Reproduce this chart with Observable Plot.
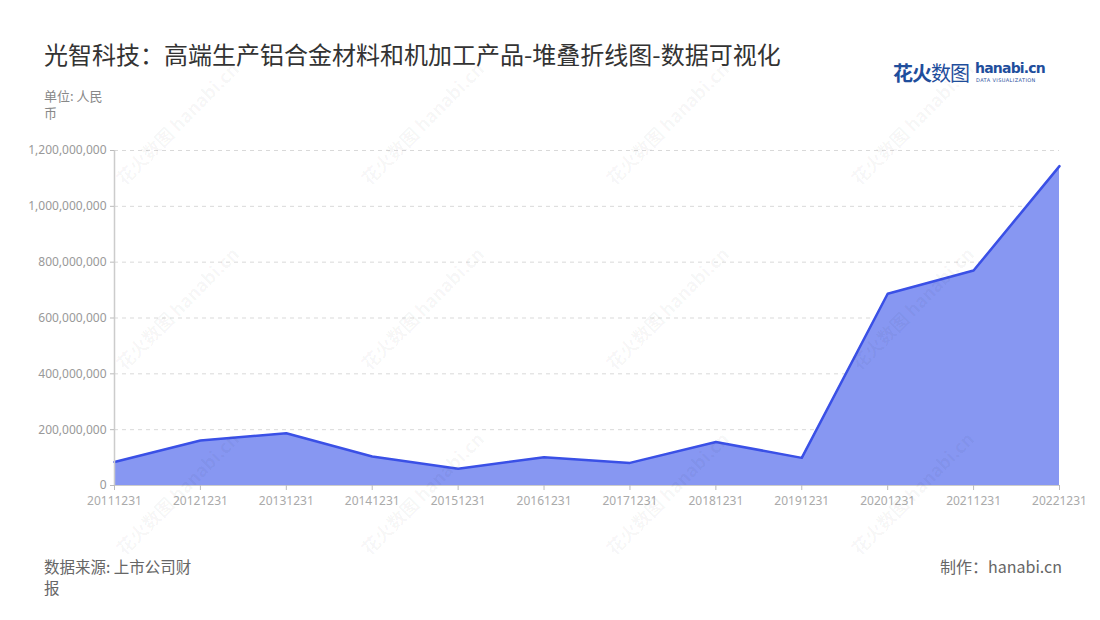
<!DOCTYPE html>
<html><head><meta charset="utf-8">
<script src="https://cdn.jsdelivr.net/npm/d3@7"></script>
<script src="https://cdn.jsdelivr.net/npm/@observablehq/plot@0.6"></script>
<style>
html,body{margin:0;padding:0;background:#fff;}
#wrap{position:relative;width:1100px;height:620px;overflow:hidden;font-family:"Noto Sans CJK SC","Noto Sans",sans-serif;}
.abs{position:absolute;white-space:nowrap;}
.wm{position:absolute;transform-origin:0 100%;transform:rotate(-45deg);color:rgba(0,0,0,0.04);font-size:18px;font-weight:bold;white-space:nowrap;pointer-events:none;}
#chart{position:absolute;left:0;top:130px;}
</style></head>
<body><div id="wrap">
<div class="abs" style="left:44px;top:36px;font-size:24px;color:#333;">光智科技：高端生产铝合金材料和机加工产品-堆叠折线图-数据可视化</div>
<div class="abs" style="left:893px;top:58px;font-size:20px;font-weight:bold;color:#1f4e9c;letter-spacing:-1px;">花火<span style="font-weight:normal">数图</span></div>
<div class="abs" style="left:975px;top:60px;font-size:14px;font-weight:bold;color:#1f4e9c;font-family:'DejaVu Sans';letter-spacing:-0.8px;">hanabi.cn</div>
<div class="abs" style="left:976px;top:77px;font-size:5px;color:#1f4e9c;font-family:'DejaVu Sans';letter-spacing:0.4px;">DATA VISUALIZATION</div>
<div class="abs" style="left:44px;top:87px;font-size:13px;color:#888;line-height:17px;">单位: 人民<br>币</div>
<div id="chart"></div>
<div class="abs" style="left:44px;top:556px;font-size:15.5px;color:#666;line-height:21px;">数据来源: 上市公司财<br>报</div>
<div class="abs" style="right:38px;top:556px;font-size:16px;color:#666;line-height:21px;">制作：hanabi.cn</div>
<div id="wms"></div>
</div>
<script>
const dates = ["20111231","20121231","20131231","20141231","20151231","20161231","20171231","20181231","20191231","20201231","20211231","20221231"];
const values = [84000000,161000000,187000000,104000000,60000000,101000000,81000000,156000000,99000000,687000000,770000000,1144000000];
const yTicks = [0,200000000,400000000,600000000,800000000,1000000000,1200000000];

const data = dates.map((d,i)=>({date:d,value:values[i]}));

const chart = Plot.plot({
  width:1100, height:390,
  marginLeft:114, marginRight:41, marginTop:20, marginBottom:35,
  style:{fontFamily:"'Noto Sans',sans-serif",fontSize:"12px",color:"#999",background:"transparent"},
  x:{type:"point",domain:dates,padding:0,round:false,label:null},
  y:{domain:[0,1200000000],ticks:yTicks,tickFormat:d3.format(","),label:null},
  marks:[
    Plot.gridY(yTicks.slice(1),{stroke:"#d9d9d9",strokeOpacity:1,strokeDasharray:"4,4"}),
    Plot.areaY(data,{x:"date",y:"value",fill:"#8797f2",fillOpacity:1}),
    Plot.lineY(data,{x:"date",y:"value",stroke:"#3a50e6",strokeWidth:2.5}),
    Plot.ruleX([dates[0]],{stroke:"#ccc",strokeWidth:1.5}),
    Plot.ruleY([0],{stroke:"#ccc"}),
    Plot.axisX({tickSize:5,tickPadding:6,stroke:"#bbb",fill:"#aaa"}),
    Plot.axisY({ticks:yTicks,tickFormat:d3.format(","),tickSize:4,tickPadding:4,stroke:"#bbb",fill:"#999"})
  ]
});
document.getElementById("chart").appendChild(chart);

const wmX = [128,373,618,863];
const wmY = [190,375,560];
const wms = document.getElementById("wms");
for(const y of wmY) for(const x of wmX){
  const d=document.createElement("div");
  d.className="wm";
  d.style.left=x+"px"; d.style.top=(y-26)+"px";
  d.textContent="花火数图 hanabi.cn";
  wms.appendChild(d);
}
</script>
</body></html>
